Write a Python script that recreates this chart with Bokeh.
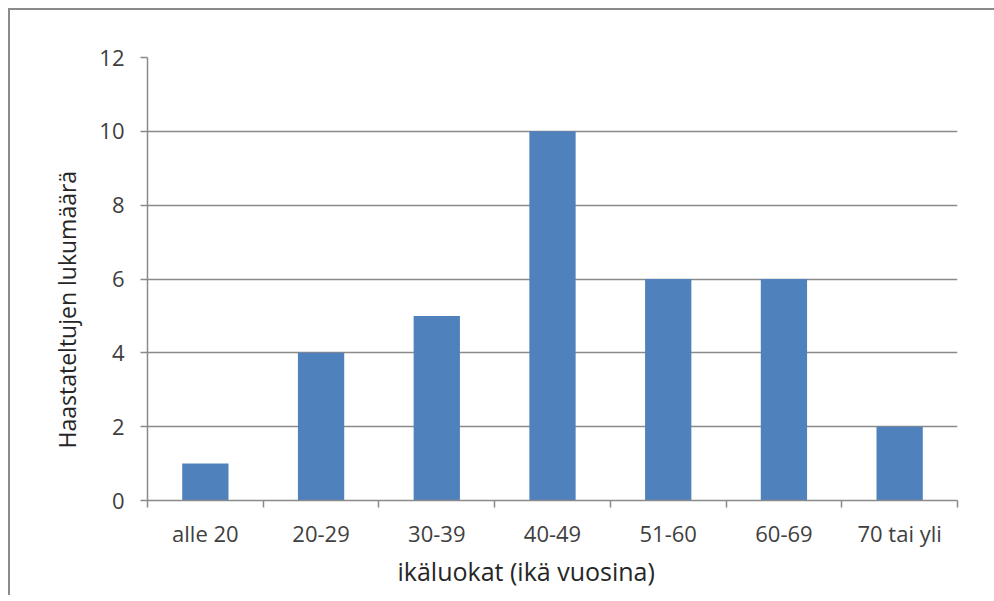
from bokeh.plotting import figure
from bokeh.models import FixedTicker, Range1d, ColumnDataSource, Title
from bokeh.embed import file_html
from bokeh.resources import INLINE

categories = ["alle 20", "20-29", "30-39", "40-49", "51-60", "60-69", "70 tai yli"]
counts = [1, 4, 5, 10, 6, 6, 2]
y_ticks = [0, 2, 4, 6, 8, 10, 12]
x_title = "ikäluokat (ikä vuosina)"
y_title = "Haastateltujen lukumäärä"

centers = [i + 0.5 for i in range(len(categories))]
bounds = list(range(len(categories) + 1))
src = ColumnDataSource(dict(x=centers, top=counts, cat=categories))

FONT = "Open Sans"
GRAY = "#8a8a8a"
TXT = "#404040"

p = figure(width=984, height=585, frame_width=810, frame_height=443,
           x_range=Range1d(0, len(categories)), y_range=Range1d(0, 12),
           output_backend="svg", toolbar_location=None,
           min_border_left=137, min_border_top=47, min_border_right=37, min_border_bottom=95)
p.styles = {"border-top": "2px solid #8a8a8a", "border-left": "2px solid #8a8a8a",
            "margin-left": "8px", "margin-top": "8px"}
p.outline_line_color = None

p.vbar(x="x", top="top", width=0.4, bottom=0, source=src, fill_color="#4F81BD", line_color=None)

# x axis
xa = p.xaxis[0]
xa.ticker = FixedTicker(ticks=centers, minor_ticks=bounds)
xa.major_label_overrides = {c: lab for c, lab in zip(centers, categories)}
xa.major_tick_line_color = None
xa.major_tick_out = 0
xa.major_tick_in = 0
xa.minor_tick_line_color = GRAY
xa.minor_tick_line_width = 1.5
xa.minor_tick_out = 7
xa.minor_tick_in = 0
xa.axis_line_color = GRAY
xa.axis_line_width = 1.5
xa.major_label_text_font = FONT
xa.major_label_text_font_size = "22px"
xa.major_label_text_color = TXT
xa.major_label_standoff = 10

# y axis
ya = p.yaxis[0]
ya.ticker = FixedTicker(ticks=y_ticks)
ya.major_tick_line_color = GRAY
ya.major_tick_line_width = 1.5
ya.major_tick_out = 7
ya.major_tick_in = 0
ya.minor_tick_line_color = None
ya.axis_line_color = GRAY
ya.axis_line_width = 1.5
ya.major_label_text_font = FONT
ya.major_label_text_font_size = "22px"
ya.major_label_text_color = TXT
ya.major_label_standoff = 16

p.add_layout(Title(text=x_title, align="left", offset=250, standoff=3,
                   text_font=FONT, text_font_size="25px", text_font_style="normal",
                   text_color="#262626"), "below")
p.add_layout(Title(text=y_title, align="left", offset=52, standoff=27,
                   text_font=FONT, text_font_size="23px", text_font_style="normal",
                   text_color="#262626"), "left")

p.xgrid.grid_line_color = None
p.ygrid.ticker = FixedTicker(ticks=y_ticks)
p.ygrid.grid_line_color = GRAY
p.ygrid.grid_line_width = 1.5

open("out.html", "w").write(file_html(p, INLINE))
